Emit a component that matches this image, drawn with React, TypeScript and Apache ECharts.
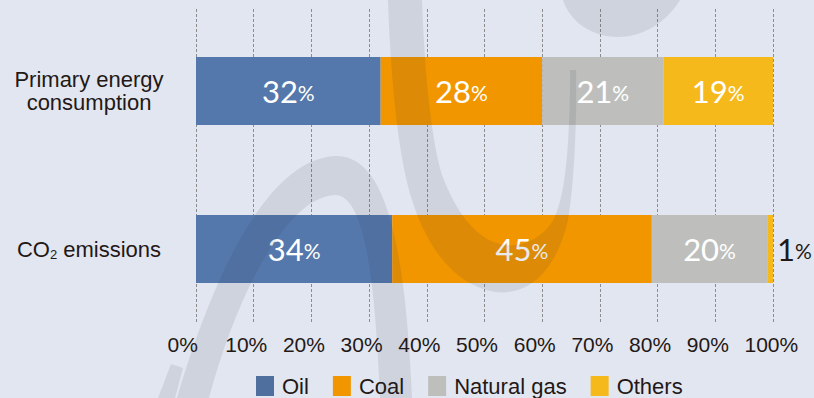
import { useEffect, useRef } from 'react';
import * as echarts from 'echarts';

// Share of each energy source, in percent
const categories = ['Primary energy consumption', 'CO2 emissions'];
const sourceNames = ['Oil', 'Coal', 'Natural gas', 'Others'];
const oilShare = [32, 34];
const coalShare = [28, 45];
const gasShare = [21, 20];
const otherShare = [19, 1];

const sourceColors = ['#5478ab', '#f29600', '#bebfbd', '#f5b91b'];
const INK = '#231815';
const LABEL_FONT = "'Liberation Sans', Arial, sans-serif";
const VALUE_FONT = "Lato, 'Noto Sans', sans-serif";

// Faint decorative swooshes laid over the plot
const ARCH_D =
  'M 177 398 C 200 320 255 160 335 156 C 385 154 405 240 412 398 L 380 398 C 375 280 365 195 335 195 C 285 197 235 300 209 398 Z';
const HOOK_D =
  'M 388 0 C 390 60 396 150 412 200 C 428 250 455 285 495 292 C 528 296 556 272 568 220 C 575 180 577 110 576 70 L 570 70 C 570 140 566 200 552 222 C 538 242 518 248 500 244 C 475 238 455 210 442 175 C 430 135 424 60 422 0 Z';
const DROP_D = 'M 563 0 C 570 22 592 37 618 37 C 645 37 668 20 680 0 Z';
const TICK_D = 'M 158 398 L 171 364 L 183 368 L 175 398 Z';

echarts.graphic.registerShape('wmArch', echarts.graphic.extendPath(ARCH_D, {}));
echarts.graphic.registerShape('wmHook', echarts.graphic.extendPath(HOOK_D, {}));
echarts.graphic.registerShape('wmDrop', echarts.graphic.extendPath(DROP_D, {}));
echarts.graphic.registerShape('wmTick', echarts.graphic.extendPath(TICK_D, {}));

const seriesValues = [oilShare, coalShare, gasShare, otherShare];

function buildOption(): echarts.EChartsOption {
  const overlayStyle = { fill: 'rgba(42,47,73,0.1)' };
  const series = sourceNames.map((name, i) => ({
    name,
    type: 'bar' as const,
    stack: 'total',
    xAxisIndex: 1,
    yAxisIndex: 1,
    barWidth: 68,
    itemStyle: { color: sourceColors[i] },
    label: {
      show: true,
      position: 'inside' as const,
      color: '#ffffff',
      formatter: '{n|{c}}{p|%}',
      rich: {
        n: { fontSize: 31, fontFamily: VALUE_FONT },
        p: { fontSize: 21, fontFamily: VALUE_FONT, padding: [2, 0, 0, 0] },
      },
    },
    data: seriesValues[i].map((v) =>
      v < 5
        ? { value: v, label: { position: 'right' as const, distance: 4, color: INK } }
        : v
    ),
  }));

  return {
    animation: false,
    backgroundColor: '#e2e6f0',
    grid: [
      { left: 196, width: 577, top: 9, height: 315, outerBoundsMode: 'none' } as any,
      { left: 196, width: 577, top: 12, height: 316, outerBoundsMode: 'none' } as any,
    ],
    xAxis: [
      {
        type: 'value',
        gridIndex: 0,
        min: 0,
        max: 100,
        interval: 10,
        axisLine: { show: false },
        axisTick: { show: false },
        splitLine: {
          show: true,
          showMinLine: true,
          showMaxLine: true,
          lineStyle: { color: '#8c8c8c', width: 1, type: [3, 2] },
        },
        axisLabel: {
          margin: 10,
          align: 'center',
          showMinLabel: true,
          showMaxLabel: true,
          hideOverlap: false,
          formatter: (v: number) => `{t|${v}%}`,
          rich: {
            t: {
              width: 57,
              align: 'left',
              fontSize: 21,
              lineHeight: 21,
              fontFamily: LABEL_FONT,
              color: INK,
            },
          },
        },
      },
      { type: 'value', gridIndex: 1, min: 0, max: 100, show: false },
    ],
    yAxis: [
      { type: 'value', gridIndex: 0, min: 0, max: 1, show: false },
      {
        type: 'category',
        gridIndex: 1,
        inverse: true,
        data: categories,
        axisLine: { show: false },
        axisTick: { show: false },
        splitLine: { show: false },
        axisLabel: {
          margin: 107,
          align: 'center',
          fontSize: 22,
          lineHeight: 23.5,
          fontFamily: LABEL_FONT,
          color: INK,
          formatter: (v: string) =>
            v.replace('energy ', 'energy\n').replace('CO2', 'CO{s|2}'),
          rich: {
            s: {
              fontSize: 13,
              lineHeight: 8,
              verticalAlign: 'bottom',
              fontFamily: LABEL_FONT,
              color: INK,
            },
          },
        },
      },
    ],
    legend: {
      data: sourceNames.map((name, i) =>
        i === 0 ? { name, itemStyle: { color: '#4f6f9f' } } : { name }
      ),
      selectedMode: false,
      icon: 'rect',
      itemWidth: 18,
      itemHeight: 20,
      itemGap: 24,
      left: 256,
      top: 375,
      padding: 0,
      textStyle: {
        fontSize: 22,
        fontFamily: LABEL_FONT,
        color: INK,
        padding: [0, 0, 0, 3],
      },
    },
    graphic: [
      { type: 'wmArch', x: 0, y: 0, z: 100, silent: true, style: overlayStyle },
      { type: 'wmHook', x: 0, y: 0, z: 100, silent: true, style: overlayStyle },
      { type: 'wmDrop', x: 0, y: 0, z: 100, silent: true, style: overlayStyle },
      { type: 'wmTick', x: 0, y: 0, z: 100, silent: true, style: overlayStyle },
    ] as any,
    series,
  } as echarts.EChartsOption;
}

export default function App() {
  const ref = useRef<HTMLDivElement>(null);

  useEffect(() => {
    document.body.style.margin = '0';
    if (!ref.current) return;
    const chart = echarts.init(ref.current, undefined, { renderer: 'svg' });
    chart.setOption(buildOption());
    return () => chart.dispose();
  }, []);

  return (
    <div
      ref={ref}
      style={{ position: 'fixed', left: 0, top: 0, width: 814, height: 398 }}
    />
  );
}
